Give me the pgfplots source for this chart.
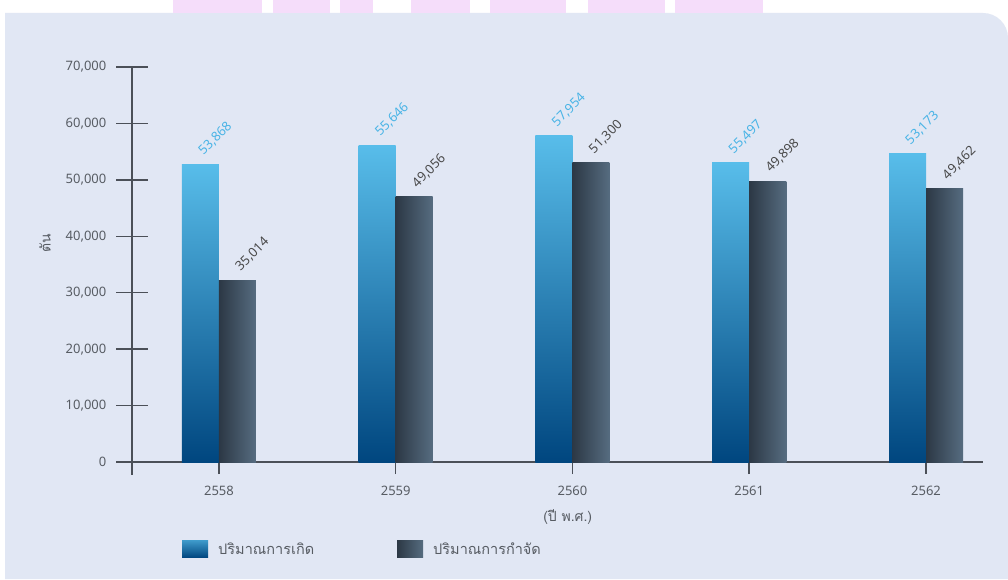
\documentclass[border=0pt]{standalone}
\usepackage{pgfplots}
\pgfplotsset{compat=1.18}
\usepackage{pgfplotstable}
\usepackage{fontspec}
\setmainfont{Noto Sans}
\newfontfamily\thaifont[Script=Thai]{Loma}
\definecolor{panel}{HTML}{E1E7F4}
\definecolor{pinkc}{HTML}{F5DDFA}
\definecolor{axiscol}{HTML}{4B5058}
\definecolor{tickcol}{HTML}{575C63}
\definecolor{bluetop}{HTML}{58BDEA}
\definecolor{bluebot}{HTML}{00467F}
\definecolor{grayleft}{HTML}{2C3845}
\definecolor{grayright}{HTML}{566C80}
\definecolor{bluelab}{HTML}{4AB4E6}
\definecolor{graylab}{HTML}{4A4A4A}

\pgfplotstableread{
x y label
0 52750 53,868
1 56050 55,646
2 57800 57,954
3 53000 55,497
4 54600 53,173
}\gen
\pgfplotstableread{
x y label
0 32250 35,014
1 47000 49,056
2 53000 51,300
3 49700 49,898
4 48400 49,462
}\dis

\begin{document}
\begin{tikzpicture}[x=1pt,y=1pt]
\fill[white] (0,0) rectangle (1008,579);
\fill[panel] (5,0) -- (5,566) -- (983,566) arc[start angle=90,end angle=0,radius=25] -- (1008,0) -- cycle;
\fill[pinkc] (173,566) rectangle (262,579);
\fill[pinkc] (273,566) rectangle (330,579);
\fill[pinkc] (340,566) rectangle (373,579);
\fill[pinkc] (411,566) rectangle (470,579);
\fill[pinkc] (490,566) rectangle (566,579);
\fill[pinkc] (588,566) rectangle (665,579);
\fill[pinkc] (675,566) rectangle (763,579);
\begin{axis}[
  at={(132pt,117pt)}, anchor=south west,
  scale only axis, width=851pt, height=395pt,
  xmin=-0.492, xmax=4.3225, ymin=0, ymax=70000,
  axis x line*=bottom, axis y line*=left,
  axis line style={-, axiscol, line width=1.5pt},
  xtick={0,1,2,3,4}, xticklabels={2558,2559,2560,2561,2562},
  ytick={0,10000,...,70000},
  xtick style={axiscol, line width=1.5pt, /pgfplots/major tick length=12pt},
  ytick style={axiscol, line width=1.5pt, /pgfplots/major tick length=31pt},
  xtick align=outside, ytick align=center,
  /pgf/number format/1000 sep={,},
  /pgf/number format/assume math mode=true,
  every tick label/.append style={font=\fontsize{13}{15}\selectfont, text=tickcol},
  yticklabel style={xshift=-20pt},
  xticklabel style={yshift=-16pt},
  scaled y ticks=false,
  ylabel={\thaifont ตัน},
  every axis y label/.style={at={(rel axis cs:0,0.555)}, anchor=center, xshift=-87pt, rotate=90, font=\fontsize{14}{16}\selectfont, text=tickcol},
  xlabel={\thaifont (ปี พ.ศ.)},
  every axis x label/.style={at={(rel axis cs:0.512,0)}, anchor=center, yshift=-55pt, font=\fontsize{14}{16}\selectfont, text=tickcol},
  ybar, bar width=37pt,
  clip=false,
  point meta=explicit symbolic,
  nodes near coords,
  nodes near coords style={font=\fontsize{13}{15}\selectfont, anchor=west, xshift=-2pt, yshift=9pt, rotate=45},
  legend columns=2,
  legend style={at={(rel axis cs:0,0)}, anchor=west, xshift=50pt, yshift=-87pt, draw=none, fill=none, inner sep=0pt,
    font=\thaifont\fontsize{14.5}{16}\selectfont, text=tickcol,
    nodes={inner xsep=10pt},
    /tikz/every even column/.append style={column sep=73pt}},
  legend image code/.code={\fill[#1, draw=none] (0pt,-8.5pt) rectangle (26pt,8.5pt);},
]
\pgfplotsinvokeforeach{0,...,4}{
\addplot[draw=none, forget plot, bar shift=-18.5pt, top color=bluetop, bottom color=bluebot,
  nodes near coords style={text=bluelab}, x filter/.expression={abs(x-#1)<0.1 ? x : nan}]
  table[x=x, y=y, meta=label] {\gen};
\addplot[draw=none, forget plot, bar shift=18.5pt, left color=grayleft, right color=grayright,
  nodes near coords style={text=graylab}, x filter/.expression={abs(x-#1)<0.1 ? x : nan}]
  table[x=x, y=y, meta=label] {\dis};
}
\addlegendimage{top color=bluetop!70!bluebot, bottom color=bluebot}
\addlegendentry{ปริมาณการเกิด}
\addlegendimage{left color=grayleft, right color=grayright}
\addlegendentry{ปริมาณการกำจัด}
\draw[axiscol, line width=1.5pt] (axis cs:-0.492,0) -- ++(0pt,-13pt);
\end{axis}
\end{tikzpicture}
\end{document}
